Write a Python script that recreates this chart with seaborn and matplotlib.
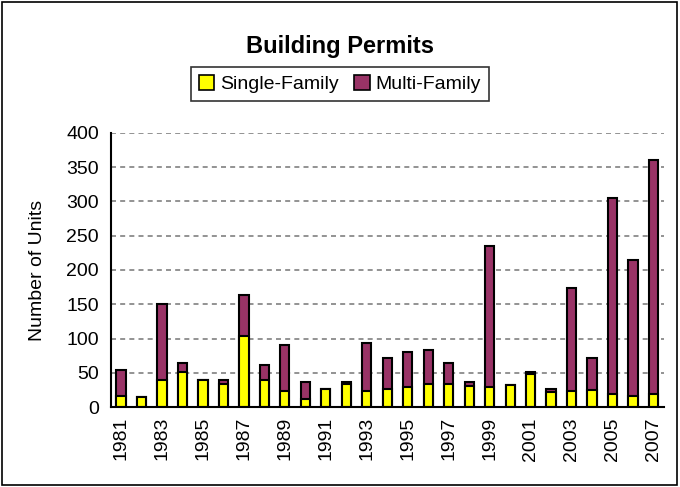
import numpy as np
import pandas as pd
import seaborn as sns
import matplotlib.pyplot as plt
from matplotlib.patches import Rectangle, Patch

# Building permits by year
years = list(range(1981, 2008))
single_family = [17, 15, 40, 52, 40, 34, 104, 40, 23, 12, 26, 34, 23, 26, 29, 34, 34, 31, 29, 32, 48, 22, 23, 25, 19, 17, 19]
multi_family = [38, 0, 111, 12, 0, 6, 59, 21, 67, 25, 0, 3, 70, 46, 52, 50, 30, 6, 206, 0, 4, 4, 151, 47, 286, 198, 341]

df = pd.DataFrame({"year": [str(y) for y in years],
                   "single": single_family,
                   "multi": multi_family})
df["total"] = df["single"] + df["multi"]

sns.set_style("white")
plt.rcParams['font.family'] = ['Liberation Sans', 'DejaVu Sans']
plt.rcParams.update({"text.color": "black", "axes.labelcolor": "black",
                     "xtick.color": "black", "ytick.color": "black"})

fig = plt.figure(figsize=(6.8, 4.87), dpi=100)
ax = fig.add_axes([0.163, 0.1637, 0.813, 0.5638])

yellow = "#FFFF00"
purple = "#993366"

# stacked look: total in purple, single-family drawn over it
sns.barplot(data=df, x="year", y="total", color=purple, width=0.45,
            edgecolor="black", linewidth=1.5, saturation=1, ax=ax)
sns.barplot(data=df, x="year", y="single", color=yellow, width=0.45,
            edgecolor="black", linewidth=1.5, saturation=1, ax=ax)

ax.set_xlim(-0.5, len(years) - 0.5)
ax.set_ylim(0, 400)
ax.set_yticks(np.arange(0, 401, 50))
ax.yaxis.grid(True, color="#808080", linestyle=(0, (3, 2.5)), linewidth=1.2)
ax.set_axisbelow(True)

# labels on every other year, tick marks between categories
pos = np.arange(len(years))
ax.set_xticks(pos[::2])
ax.set_xticklabels([str(y) for y in years[::2]], rotation=90)
ax.set_xticks(np.arange(-0.5, len(years)), minor=True)
ax.tick_params(axis="x", which="major", length=0, labelsize=14, pad=7)
ax.tick_params(axis="x", which="minor", length=5, width=1.2, color="black", direction="out")
ax.tick_params(axis="y", length=5, width=1.2, color="black", direction="out", labelsize=14)

for s in ["top", "right"]:
    ax.spines[s].set_visible(False)
for s in ["left", "bottom"]:
    ax.spines[s].set_color("black")
    ax.spines[s].set_linewidth(1.5)

ax.set_xlabel("")
ax.set_ylabel("Number of Units", fontsize=14)
ax.yaxis.set_label_coords(-0.118, 0.5)

fig.text(0.5, 0.9035, "Building Permits", ha="center", va="center",
         fontsize=17, fontweight="bold")

handles = [Patch(facecolor=yellow, edgecolor="black", linewidth=1.2, label="Single-Family"),
           Patch(facecolor=purple, edgecolor="black", linewidth=1.2, label="Multi-Family")]
leg = fig.legend(handles=handles, loc="center", bbox_to_anchor=(0.5, 0.8275), ncol=2,
                 fontsize=14, frameon=True, fancybox=False, handlelength=0.8,
                 handleheight=0.8, handletextpad=0.3, columnspacing=0.8,
                 borderpad=0.4, borderaxespad=0)
leg.get_frame().set_edgecolor("black")
leg.get_frame().set_linewidth(1.2)

# outer chart border
fig.patches.append(Rectangle((0.003, 0.005), 0.992, 0.99, transform=fig.transFigure,
                             fill=False, edgecolor="black", linewidth=1.2))

fig.savefig("out.png", dpi=100)
